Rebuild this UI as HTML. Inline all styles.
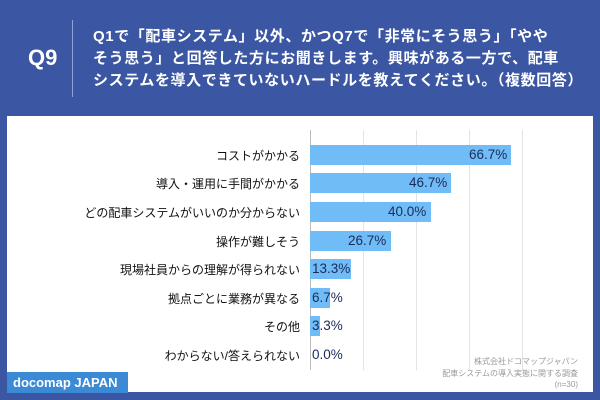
<!DOCTYPE html>
<html><head><meta charset="utf-8"><style>
body{margin:0;width:600px;height:400px;background:#3b56a2;position:relative;overflow:hidden;font-family:"Liberation Sans","Noto Sans CJK JP",sans-serif}
.q9{position:absolute;left:28px;top:45px;color:#fff;font-size:22px;font-weight:bold}
.vl{position:absolute;left:72px;top:20px;width:1px;height:77px;background:#8fa3d6}
.qt{position:absolute;left:93px;top:26px;color:#fff;font-size:15px;line-height:22px;font-weight:bold;width:500px;white-space:nowrap;letter-spacing:0.6px}
.panel{position:absolute;left:7px;top:116px;width:586px;height:276px;background:#fff}
.lbl{position:absolute;right:300px;font-size:12px;color:#111;white-space:nowrap;text-align:right}
.bar{position:absolute;left:310px;height:20px;background:#70bcf7}
.val{position:absolute;font-size:13.5px;color:#1b2a5a}
.g{position:absolute;top:130px;width:1px;height:240px;background:#e3e3e3}
.src{position:absolute;right:22px;font-size:8px;color:#999;text-align:right}
.logo{position:absolute;left:7px;top:372px;width:121px;height:21px;background:#3a8ad6;color:#fff;font-weight:bold;font-size:13px;line-height:21px;padding-left:6px;box-sizing:border-box}
</style></head><body>
<div class="q9">Q9</div><div class="vl"></div>
<div class="qt">Q1で「配車システム」以外、かつQ7で「非常にそう思う」「やや<br>そう思う」と回答した方にお聞きします。興味がある一方で、配車<br>システムを導入できていないハードルを教えてください。（複数回答）</div>
<div class="panel"></div>
<div class="g" style="left:363px"></div><div class="g" style="left:416px"></div><div class="g" style="left:469px"></div><div class="g" style="left:522px"></div>
<div class="g" style="left:310px;background:#bbb"></div>
<div class="bar" style="top:145px;width:201px"></div><div class="val" style="top:147px;left:469px">66.7%</div>
<div class="bar" style="top:173px;width:141px"></div><div class="val" style="top:175px;left:409px">46.7%</div>
<div class="bar" style="top:202px;width:121px"></div><div class="val" style="top:204px;left:388px">40.0%</div>
<div class="bar" style="top:231px;width:81px"></div><div class="val" style="top:233px;left:348px">26.7%</div>
<div class="bar" style="top:259px;width:41px"></div><div class="val" style="top:261px;left:312px">13.3%</div>
<div class="bar" style="top:288px;width:20px"></div><div class="val" style="top:290px;left:312px">6.7%</div>
<div class="bar" style="top:316px;width:10px"></div><div class="val" style="top:318px;left:312px">3.3%</div>
<div class="val" style="top:347px;left:312px">0.0%</div>
<div class="lbl" style="top:147px">コストがかかる</div>
<div class="lbl" style="top:175px">導入・運用に手間がかかる</div>
<div class="lbl" style="top:204px">どの配車システムがいいのか分からない</div>
<div class="lbl" style="top:233px">操作が難しそう</div>
<div class="lbl" style="top:261px">現場社員からの理解が得られない</div>
<div class="lbl" style="top:290px">拠点ごとに業務が異なる</div>
<div class="lbl" style="top:318px">その他</div>
<div class="lbl" style="top:347px">わからない/答えられない</div>
<div class="src" style="top:356px">株式会社ドコマップジャパン</div>
<div class="src" style="top:368px">配車システムの導入実態に関する調査</div>
<div class="src" style="top:380px">(n=30)</div>
<div class="logo">docomap JAPAN</div>
</body></html>
